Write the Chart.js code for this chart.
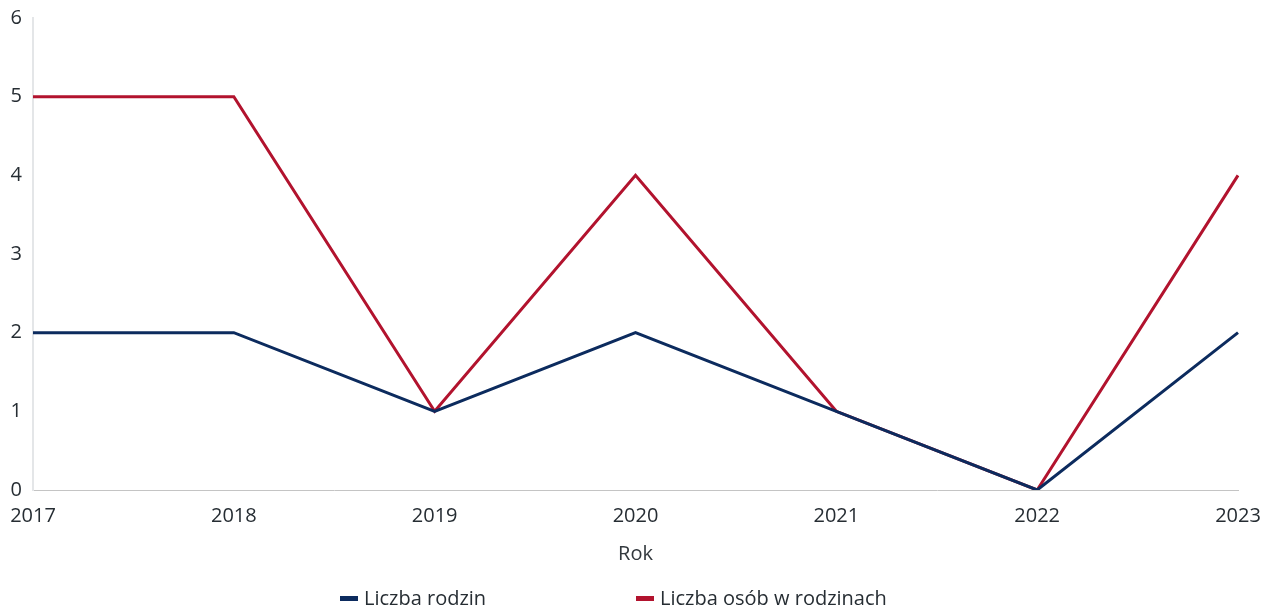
<!DOCTYPE html>
<html>
<head>
    <title>Liczba rodzin</title>
    <script src="https://cdn.jsdelivr.net/npm/chart.js"></script>
    <style>
        body { margin: 0; background: #fff; font-family: "Open Sans", sans-serif; }
        #wrap { position: relative; width: 1270px; height: 614px; }
        .leg { position: absolute; top: 584px; font-size: 20px; color: #262d33; white-space: nowrap; }
        .leg i { display: inline-block; width: 18px; height: 5px; margin-right: 6px; vertical-align: middle; position: relative; top: -1px; }
    </style>
</head>
<body>
    <div id="wrap">
        <canvas id="familyChart"></canvas>
        <div class="leg" style="left:340px"><i style="background:#0c2b5e"></i>Liczba rodzin</div>
        <div class="leg" style="left:636px"><i style="background:#b2132e"></i>Liczba osób w rodzinach</div>
    </div>
    <script>
        // data
        const years = ['2017', '2018', '2019', '2020', '2021', '2022', '2023'];
        const families = [2, 2, 1, 2, 1, 0, 2];
        const persons = [5, 5, 1, 4, 1, 0, 4];
        const yTicks = [0, 1, 2, 3, 4, 5, 6];

        const ctx = document.getElementById('familyChart').getContext('2d');
        new Chart(ctx, {
            type: 'line',
            data: {
                labels: years,
                datasets: [{
                    label: 'Liczba rodzin',
                    data: families,
                    borderColor: '#0c2b5e',
                    borderWidth: 3,
                    pointRadius: 0,
                    tension: 0
                }, {
                    label: 'Liczba osób w rodzinach',
                    data: persons,
                    borderColor: '#b2132e',
                    borderWidth: 3,
                    pointRadius: 0,
                    tension: 0
                }]
            },
            options: {
                responsive: true,
                maintainAspectRatio: false,
                animation: false,
                layout: { padding: { top: 18, right: 32, bottom: 48, left: 0 } },
                plugins: {
                    legend: { display: false },
                    tooltip: { enabled: false }
                },
                scales: {
                    x: {
                        afterFit: s => { s.paddingLeft = 0; s.paddingRight = 0; },
                        grid: { display: false, drawTicks: false },
                        border: { display: true, color: '#c4c4c4', dash: [4, 2], width: 1 },
                        ticks: { padding: 14, color: '#262d33', font: { family: 'Open Sans', size: 20 }, maxRotation: 0 },
                        title: {
                            display: true,
                            text: 'Rok',
                            color: '#33393e',
                            font: { family: 'Open Sans', size: 20 },
                            padding: { top: 0, bottom: 0 }
                        }
                    },
                    y: {
                        min: 0,
                        max: 6,
                        afterBuildTicks: s => { s.ticks = yTicks.map(v => ({ value: v })); },
                        afterFit: s => { s.width = 33; s.paddingTop = 0; s.paddingBottom = 0; },
                        grid: { display: false, drawTicks: false },
                        border: { display: true, color: '#e4e6e8', width: 2 },
                        ticks: { padding: 11, color: '#262d33', font: { family: 'Open Sans', size: 20 } }
                    }
                }
            }
        });
    </script>
</body>
</html>
